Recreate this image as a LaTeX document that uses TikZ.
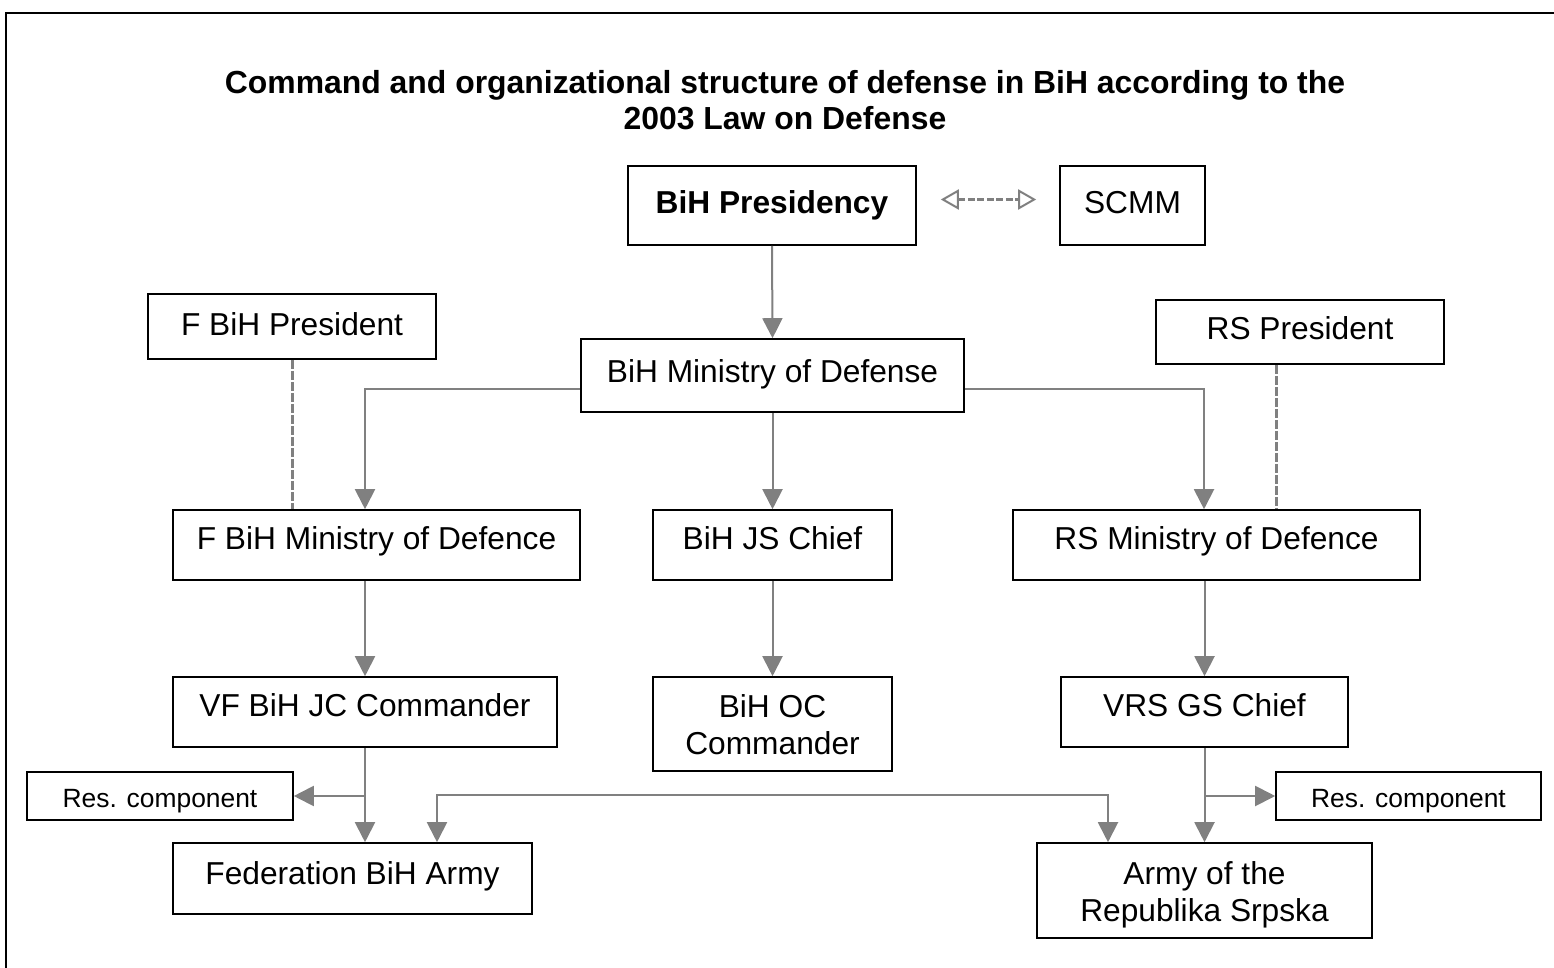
\documentclass[tikz,border=0pt]{standalone}
\usepackage{fontspec}
\setmainfont{Liberation Sans}
\usetikzlibrary{arrows.meta}
\definecolor{arrgray}{RGB}{128,128,128}
\tikzset{
  orgbox/.style={draw=black, line width=1.6pt, inner sep=0pt, align=center,
    text height=23pt, text depth=7pt,
    font=\fontsize{31.7}{37}\selectfont},
  resbox/.style={draw=black, line width=1.6pt, inner sep=0pt, align=center,
    text height=22pt, text depth=0pt,
    font=\fontsize{26.4}{30}\selectfont},
  arr/.style={draw=arrgray, line width=2pt, -{Triangle[length=20pt,width=20pt]}},
  biarr/.style={draw=arrgray, line width=2pt, {Triangle[length=20pt,width=20pt]}-{Triangle[length=20pt,width=20pt]}},
  dashline/.style={draw=arrgray, line width=3pt, dash pattern=on 9pt off 2pt},
  openarr/.style={draw=arrgray, line width=2.4pt, dash pattern=on 7pt off 2.5pt,
    {Triangle[open,length=18pt,width=20pt,fill=white,line width=2pt]}-{Triangle[open,length=18pt,width=20pt,fill=white,line width=2pt]}},
}
\begin{document}
\begin{tikzpicture}[x=1pt,y=-1pt]
\useasboundingbox (0,0) rectangle (1554,968);
\draw[line width=2.5pt] (6,990) -- (6,13) -- (1570,13);

\node[font=\bfseries\fontsize{31.9}{36}\selectfont, align=center] (title) at (785,100)
  {Command and organizational structure of defense in BiH according to the\\2003 Law on Defense};

\node[orgbox, minimum width=288pt, minimum height=79pt, font=\bfseries\fontsize{31.7}{37}\selectfont] (pres) at (772,205.5) {BiH Presidency};
\node[orgbox, minimum width=145pt, minimum height=79pt] (scmm) at (1132.5,205.5) {SCMM};
\node[orgbox, minimum width=288pt, minimum height=65pt, text depth=5pt] (fp) at (292,326.5) {F BiH President};
\node[orgbox, minimum width=383pt, minimum height=73pt, text depth=9pt] (mod) at (772.5,375.5) {BiH Ministry of Defense};
\node[orgbox, minimum width=288pt, minimum height=64pt, text depth=8pt] (rp) at (1300,332) {RS President};
\node[orgbox, minimum width=407pt, minimum height=70pt, text depth=14pt] (fmod) at (376.5,545) {F BiH Ministry of Defence};
\node[orgbox, minimum width=239pt, minimum height=70pt, text depth=14pt] (js) at (772.5,545) {BiH JS Chief};
\node[orgbox, minimum width=407pt, minimum height=70pt, text depth=14pt] (rmod) at (1216.5,545) {RS Ministry of Defence};
\node[orgbox, minimum width=384pt, minimum height=70pt, text depth=14pt] (vf) at (365,712) {VF BiH JC Commander};
\node[orgbox, minimum width=239pt, minimum height=94pt, text height=60pt, text depth=0pt] (oc) at (772.5,724) {BiH OC\\Commander};
\node[orgbox, minimum width=287pt, minimum height=70pt, text depth=14pt] (vrs) at (1204.5,712) {VRS GS Chief};
\node[resbox, minimum width=266pt, minimum height=48pt] (resl) at (160,796) {Res. component};
\node[resbox, minimum width=265pt, minimum height=48pt] (resr) at (1408.5,796) {Res. component};
\node[orgbox, minimum width=359pt, minimum height=71pt, text depth=11pt] (fa) at (352.5,878.5) {Federation BiH Army};
\node[orgbox, minimum width=335pt, minimum height=95pt, text height=62pt, text depth=0pt] (ars) at (1204.5,890.5) {Army of the\\Republika Srpska};

\coordinate (lx) at (365,389);
\coordinate (rx) at (1204,389);
\coordinate (vfx) at (365,796);
\coordinate (vrsx) at (1204,796);
\coordinate (bl) at (437,795);
\coordinate (br) at (1108,795);
\coordinate (rsx) at (1276,0);

\draw[arr] (pres.south) -- (mod.north);
\draw[arr] (mod.west |- lx) -| (fmod.north -| lx);
\draw[arr] (mod.east |- rx) -| (rmod.north -| rx);
\draw[arr] (mod.south) -- (js.north);
\draw[arr] (fmod.south -| vf.south) -- (vf.north);
\draw[arr] (js.south) -- (oc.north);
\draw[arr] (rmod.south -| vrs.south) -- (vrs.north);
\draw[arr] (vf.south) -- (vf.south |- fa.north);
\draw[arr] (vfx) -- (resl.east);
\draw[arr] (vrs.south) -- (ars.north);
\draw[arr] (vrsx) -- (resr.west);
\draw[biarr] (fa.north -| bl) -- (bl) -- (br) -- (ars.north -| br);

\draw[dashline] (fp.south) -- (fp.south |- fmod.north);
\draw[dashline] (rp.south -| rsx) -- (rmod.north -| rsx);

\draw[openarr] ([xshift=24pt,yshift=6pt]pres.east) -- ([xshift=-23pt,yshift=6pt]scmm.west);
\end{tikzpicture}
\end{document}
